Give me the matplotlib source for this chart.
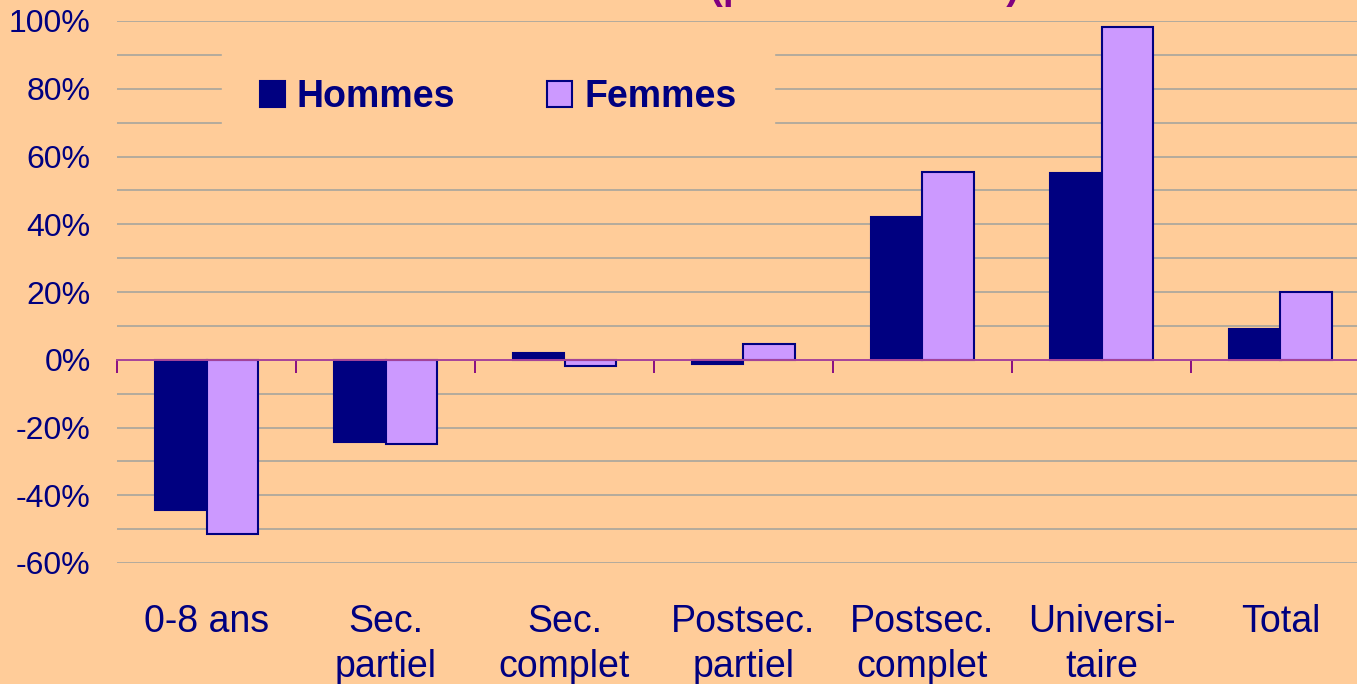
import numpy as np
import matplotlib.pyplot as plt
from matplotlib.patches import Patch
from matplotlib.transforms import blended_transform_factory

# data
categories = ['0-8 ans', 'Sec.\npartiel', 'Sec.\ncomplet', 'Postsec.\npartiel',
              'Postsec.\ncomplet', 'Universi-\ntaire', 'Total']
hommes = [-44.3, -24.2, 2.1, -1.2, 42.2, 55.2, 9.2]
femmes = [-51.4, -24.8, -1.8, 4.7, 55.5, 98.1, 20.1]
yticks = [-60, -40, -20, 0, 20, 40, 60, 80, 100]
ylabels = ['%d%%' % v for v in yticks]

bg = '#FFCC99'
navy = '#000080'
lilac = '#CC99FF'
purple = '#800080'

plt.rcParams['font.family'] = ['Liberation Sans', 'DejaVu Sans']

fig = plt.figure(figsize=(13.57, 6.84), dpi=100, facecolor=bg)
# axes reaches past the right edge like the cropped original
ax = fig.add_axes([117/1357, 121/684, 1253/1357, 542/684])
ax.set_facecolor(bg)

x = np.arange(len(categories))
w = 0.29
ax.bar(x - w/2, hommes, w, color=navy, edgecolor=navy, linewidth=1.5, zorder=2)
ax.bar(x + w/2, femmes, w, color=lilac, edgecolor=navy, linewidth=1.5, zorder=2)

ax.set_xlim(-0.5, len(categories) - 0.5)
ax.set_ylim(-60, 100)

# grid every 10 %
ax.set_yticks(yticks, ylabels)
ax.set_yticks(np.arange(-60, 101, 10), minor=True)
ax.yaxis.grid(True, which='both', color='#B3AB9D', linewidth=1.4, zorder=0)
ax.tick_params(axis='y', which='both', length=0, pad=19, labelsize=23, labelcolor=navy)

# zero line with ticks between the groups
for s in ['left', 'right', 'top']:
    ax.spines[s].set_visible(False)
ax.spines['bottom'].set_position(('data', 0))
ax.spines['bottom'].set_color('#A8449A')
ax.spines['bottom'].set_linewidth(1.4)
ax.spines['bottom'].set_zorder(3)
ax.set_xticks([])
ax.set_xticks(np.arange(-0.5, len(categories)), minor=True)
ax.tick_params(axis='x', which='minor', direction='out', length=9, width=1.3,
               color=purple, labelbottom=False)

# category labels under the plot (x in data, y in figure fraction)
trans = blended_transform_factory(ax.transData, fig.transFigure)
for xi, lab in zip(x, categories):
    ax.text(xi, (684 - 604) / 684, lab, transform=trans,
            ha='center', va='top', fontsize=27, color=navy, linespacing=1.32,
            multialignment='center', clip_on=False)

handles = [Patch(facecolor=navy, edgecolor=navy, linewidth=1.5, label='Hommes'),
           Patch(facecolor=lilac, edgecolor=navy, linewidth=1.5, label='Femmes')]
leg = fig.legend(handles=handles, loc='center left', bbox_to_anchor=(222/1357, (684-97)/684),
                 ncol=2, frameon=True, facecolor=bg, edgecolor=bg, fancybox=False,
                 prop={'weight': 'bold', 'size': 27}, handlelength=0.67, handleheight=0.67,
                 handletextpad=0.32, columnspacing=2.45, borderpad=1.0, borderaxespad=0)
leg.get_frame().set_alpha(1)
for t in leg.get_texts():
    t.set_color(navy)
leg.set_zorder(5)

# title, mostly cut off at the top of the picture as in the original
fig.text(865/1357, 1.002, '(pour 1981-2001)', ha='center', va='baseline',
         fontsize=28, fontweight='bold', color=purple)

fig.savefig('out.png', dpi=100, facecolor=bg)
